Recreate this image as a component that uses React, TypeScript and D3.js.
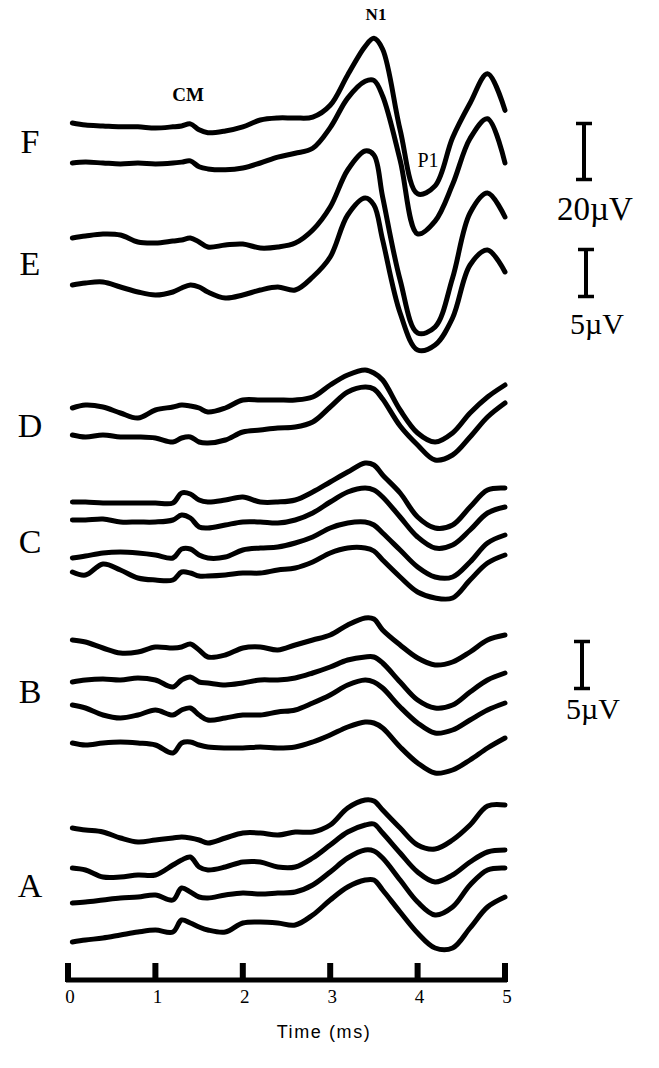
import React from "react";
import * as d3 from "d3";

// sample times (ms)
const TIMES = [0.05, 0.2, 0.4, 0.6, 0.8, 1.0, 1.2, 1.3, 1.4, 1.5, 1.6, 1.8, 2.0, 2.2, 2.4, 2.6, 2.8, 3.0, 3.2, 3.4, 3.5, 3.6, 3.8, 4.0, 4.2, 4.4, 4.6, 4.8, 5.0];
const TICKS = [0, 1, 2, 3, 4, 5];

// amplitudes (µV) relative to each trace's start
const F1 = [0, -0.7, -1, -1.3, -1.3, -1.7, -1.3, -1, -0.3, -2.3, -3.3, -2.7, -1.3, 1, 1.7, 1.7, 2, 6, 16.3, 26, 28.7, 25, -2.3, -24, -21.3, -5, 6.7, 16.7, 4.3];
const F2 = [0, 0.3, 0, -0.3, 0, -0.3, 0, 0.3, 0.7, -1.3, -2, -2.3, -1.7, 0, 2, 3.3, 5, 12, 22, 27.7, 28, 22.7, 1, -24, -19.7, -7.3, 8.3, 15, 0];
const E1 = [0, 0.2, 0.4, 0.3, -0.4, -0.5, -0.3, -0.2, 0, -0.4, -0.9, -0.7, -0.6, -1, -0.9, -0.5, 0.8, 3.1, 6.8, 8.7, 8.3, 4.1, -4.2, -9.5, -8.9, -4, 2.5, 4.5, 2.1];
const E2 = [0, 0.2, 0.3, -0.2, -0.7, -1, -0.7, -0.3, 0, -0.2, -0.7, -1.3, -1, -0.5, -0.2, -0.5, 0.8, 2.8, 7, 8.7, 8, 4.5, -2.8, -6.5, -6, -3.3, 2, 3.5, 1.3];
const D1 = [0, 0.3, 0.1, -0.5, -1, -0.2, 0.1, 0.3, 0.2, 0, -0.4, 0, 0.8, 0.8, 0.8, 0.8, 1.1, 2.3, 3.3, 3.8, 3.5, 2.8, -0.2, -2.5, -3.4, -2.5, -0.5, 1.1, 2.3];
const D2 = [0, -0.2, 0, -0.2, -0.2, -0.3, -0.7, -0.3, -0.2, -0.7, -0.8, -0.5, 0.3, 0.5, 0.7, 0.8, 1.3, 2.8, 4.3, 4.8, 4.6, 3.6, 0.9, -1.0, -2.5, -2, -0.2, 1.8, 3.2];
const C1 = [0, 0, -0.1, -0.1, -0.1, -0.1, -0.1, 0.9, 0.8, 0.2, 0, 0.2, 0.5, 0, 0, 0.2, 1, 2, 3, 3.9, 3.7, 2.7, 0.9, -1.5, -2.6, -2.3, -0.5, 1.2, 1.4];
const C2 = [0, 0, 0.1, -0.2, -0.2, -0.2, 0, 0.5, 0.2, -0.7, -0.8, -0.5, -0.2, -0.2, -0.3, 0, 0.7, 1.8, 2.8, 3.2, 3, 2.3, 0.3, -1.7, -2.8, -2.5, -1, 0.7, 1.3];
const C3 = [0, 0.2, 0.5, 0.6, 0.5, 0.3, 0, 0.9, 0.9, 0.3, 0, 0.1, 0.8, 1, 1.1, 1.5, 2.1, 3, 3.5, 3.6, 3.3, 2.5, 0.8, -0.9, -1.9, -1.9, -0.4, 1.5, 2.3];
const C4 = [0, -0.3, 0.8, 0.2, -0.6, -0.8, -0.8, 0, -0.1, -0.4, -0.4, -0.3, -0.1, -0.1, 0.2, 0.4, 1, 1.9, 2.4, 2.4, 2.1, 1.2, -0.5, -2, -2.6, -2.6, -0.8, 0.9, 1.7];
const B1 = [0, -0.2, -0.8, -1.3, -1.2, -0.7, -0.8, -0.7, -0.4, -1, -1.7, -1.5, -0.8, -0.7, -1, -0.5, 0, 0.5, 1.5, 2.2, 2.1, 1, -0.5, -1.8, -2.5, -2.2, -1.2, 0, 0.5];
const B2 = [0, 0.2, 0.3, 0.2, 0.4, 0.2, -0.5, 0.2, 0.5, 0, -0.1, -0.3, -0.1, 0.2, 0.2, 0.4, 0.9, 1.5, 2.2, 2.5, 2.5, 1.9, 0, -1.8, -2.6, -2.3, -1, 0.2, 0.9];
const B3 = [0, -0.3, -1, -1.3, -1, -0.5, -1, -0.5, -0.3, -1, -1.5, -1.3, -1, -1, -0.7, -0.5, 0.2, 1, 2, 2.5, 2.3, 1.7, -0.2, -1.8, -2.8, -2.5, -1.5, -0.5, 0.2];
const B4 = [0, -0.2, 0, 0.1, 0, -0.2, -1, 0, 0.1, -0.2, -0.4, -0.5, -0.5, -0.4, -0.5, -0.4, 0.1, 0.8, 1.6, 2.1, 2, 1.5, -0.4, -2, -3, -2.7, -1.7, -0.5, 0.5];
const A1 = [0, -0.2, -0.4, -1, -1.4, -1.2, -1, -0.9, -1, -1.2, -1.5, -1, -0.5, -0.5, -0.7, -0.4, -0.4, 0.3, 2, 2.8, 2.7, 1.8, 0, -1.7, -2.1, -1.2, 0.3, 2.2, 2.3];
const A2 = [0, -0.2, -0.9, -0.9, -0.7, -0.7, 0.3, 0.8, 1.1, 0.1, -0.2, 0.1, 0.6, 0.6, 0.1, 0.1, 1, 2.3, 3.6, 4.3, 4.4, 3.5, 1.5, -0.4, -1.4, -0.7, 0.6, 1.6, 1.8];
const A3 = [0, 0.1, 0.3, 0.5, 0.6, 0.8, 0.3, 1.5, 1.1, 0.6, 0.5, 0.8, 1, 0.9, 1, 1.1, 1.8, 3.1, 4.5, 5.3, 5.2, 4.5, 2.3, 0.1, -1.2, -0.4, 1.8, 3.3, 3.5];
const A4 = [0, 0.2, 0.4, 0.7, 1, 1.2, 1, 2.2, 1.9, 1.5, 1.2, 1, 1.9, 2, 1.9, 1.7, 2.7, 4.2, 5.5, 6.2, 6.2, 5.2, 3, 0.9, -0.6, -0.6, 1.4, 3.5, 4.5];

const GROUP_NAMES = ["F", "E", "D", "C", "B", "A"];
const GROUP_TRACES = [[F1, F2], [E1, E2], [D1, D2], [C1, C2, C3, C4], [B1, B2, B3, B4], [A1, A2, A3, A4]];
const SCALE_BARS = [20, 5, 5]; // µV

// layout (px)
const W = 659, H = 1068;
const X0 = 68, X1 = 505;
const GAIN = [2.95, 10, 10, 10, 10, 10]; // px per µV for each group
const OFFSETS = [[123, 163], [238, 285], [408, 435], [502, 520, 558, 572], [640, 682, 705, 743], [828, 868, 903, 942]];
const LABEL_Y = [153, 275, 437, 553, 703, 897];
const BAR_POS = [{ x: 584, y: 181, g: 0, ty: 220 }, { x: 586, y: 298, g: 1, ty: 334 }, { x: 582, y: 690, g: 4, ty: 719 }];
const AXIS_Y = 980;
const SERIF = "'Liberation Serif', 'Times New Roman', serif";

export default function App() {
  const x = d3.scaleLinear().domain([0, 5]).range([X0, X1]);
  const paths: { d: string; key: string }[] = [];
  GROUP_TRACES.forEach((traces, gi) => {
    const amp = d3.scaleLinear().domain([0, 1]).range([0, -GAIN[gi]]);
    traces.forEach((vals, ti) => {
      const base = OFFSETS[gi][ti];
      const line = d3
        .line<number>()
        .x((_, i) => x(TIMES[i]))
        .y((v) => base + amp(v))
        .curve(d3.curveCatmullRom.alpha(0.5));
      paths.push({ d: line(vals) as string, key: `${GROUP_NAMES[gi]}${ti}` });
    });
  });

  return (
    <svg width={W} height={H} style={{ position: "absolute", left: 0, top: 0, background: "#fff" }}>
      <rect x={0} y={0} width={W} height={H} fill="#fff" />
      {paths.map((p) => (
        <path key={p.key} d={p.d} fill="none" stroke="#000" strokeWidth={5} strokeLinejoin="round" strokeLinecap="round" />
      ))}
      {GROUP_NAMES.map((n, i) => (
        <text key={n} x={30} y={LABEL_Y[i]} textAnchor="middle" fontFamily={SERIF} fontSize={34} fill="#000">
          {n}
        </text>
      ))}
      <text x={188} y={101} textAnchor="middle" fontFamily={SERIF} fontWeight="bold" fontSize={19} fill="#000">CM</text>
      <text x={376} y={20} textAnchor="middle" fontFamily={SERIF} fontWeight="bold" fontSize={17} fill="#000">N1</text>
      <text x={428} y={167} textAnchor="middle" fontFamily={SERIF} fontSize={20} fill="#000">P1</text>

      {BAR_POS.map((b, i) => {
        const amp = d3.scaleLinear().domain([0, 1]).range([0, GAIN[b.g]]);
        const top = b.y - amp(SCALE_BARS[i]);
        return (
          <g key={i}>
            <line x1={b.x} x2={b.x} y1={top} y2={b.y} stroke="#000" strokeWidth={4} />
            <line x1={b.x - 8} x2={b.x + 8} y1={top + 1.5} y2={top + 1.5} stroke="#000" strokeWidth={3.5} />
            <line x1={b.x - 8} x2={b.x + 8} y1={b.y - 1.5} y2={b.y - 1.5} stroke="#000" strokeWidth={3.5} />
            <text x={b.x + 11} y={b.ty} textAnchor="middle" fontFamily={SERIF} fontSize={i === 0 ? 33 : 30} fill="#000">
              {`${SCALE_BARS[i]}µV`}
            </text>
          </g>
        );
      })}

      <line x1={X0 - 2} x2={X1 + 2} y1={AXIS_Y} y2={AXIS_Y} stroke="#000" strokeWidth={5} />
      {TICKS.map((t) => (
        <g key={t}>
          <rect x={x(t) - 3} y={963} width={6} height={AXIS_Y - 963 + 2} fill="#000" />
          <text x={x(t) + 2} y={1003} textAnchor="middle" fontFamily={SERIF} fontSize={19} fill="#000">{t}</text>
        </g>
      ))}
      <text x={324} y={1038} textAnchor="middle" fontFamily="'Liberation Sans', Arial, sans-serif" fontSize={18} letterSpacing={1.6} fill="#000">
        Time (ms)
      </text>
    </svg>
  );
}
